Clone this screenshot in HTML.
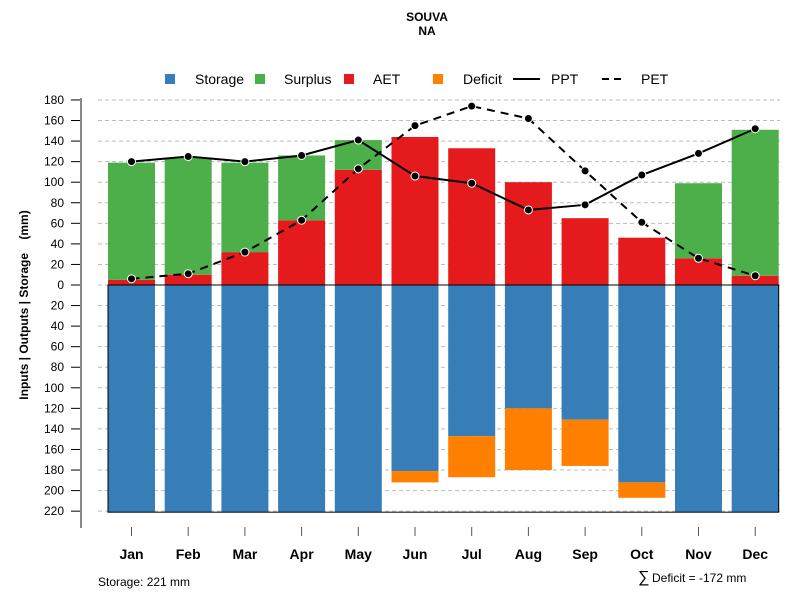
<!DOCTYPE html>
<html><head><meta charset="utf-8"><style>
body{margin:0;background:#fff;font-family:"Liberation Sans",sans-serif}
svg text{font-family:"Liberation Sans",sans-serif}
</style></head><body>
<svg id="chart" width="800" height="600" viewBox="0 0 800 600" xmlns="http://www.w3.org/2000/svg">
<text x="427" y="21" text-anchor="middle" font-size="12" font-weight="bold">SOUVA</text>
<text x="427" y="35" text-anchor="middle" font-size="12" font-weight="bold">NA</text>
<g id="grid"></g>
<g id="bars"></g>
<g id="lines"></g>
<g id="axes"></g>
<g font-size="14">
 <rect x="165" y="74" width="10" height="10" fill="#377eb8"/>
 <text x="195" y="84">Storage</text>
 <rect x="255" y="74" width="10" height="10" fill="#4daf4a"/>
 <text x="284" y="84">Surplus</text>
 <rect x="344" y="74" width="10" height="10" fill="#e41a1c"/>
 <text x="373" y="84">AET</text>
 <rect x="433" y="74" width="10" height="10" fill="#ff7f00"/>
 <text x="463" y="84">Deficit</text>
 <line x1="513" y1="79" x2="540" y2="79" stroke="#000" stroke-width="2"/>
 <text x="551" y="84">PPT</text>
 <line x1="602" y1="79" x2="625" y2="79" stroke="#000" stroke-width="2" stroke-dasharray="7,5"/>
 <text x="641" y="84">PET</text>
</g>
<text transform="translate(28,305) rotate(-90)" text-anchor="middle" font-size="12" font-weight="bold" style="white-space:pre" xml:space="preserve">Inputs | Outputs | Storage    (mm)</text>
<text x="98" y="586" font-size="12">Storage: 221 mm</text>
<text x="638" y="582" font-size="16">∑</text>
<text x="652" y="582" font-size="12">Deficit = -172 mm</text>
</svg>
<script>
const months=["Jan","Feb","Mar","Apr","May","Jun","Jul","Aug","Sep","Oct","Nov","Dec"];
const aet=[5,10,32,63,112,144,133,100,65,46,26,9];
const surplus=[114,114,87,63,29,0,0,0,0,0,73,142];
const storage=[221,221,221,221,221,181,147,120,131,192,221,221];
const deficit=[0,0,0,0,0,11,40,60,45,15,0,0];
const ppt=[120,125,120,126,141,106,99,73,78,107,128,152];
const pet=[6,11,32,63,113,155,174,162,111,61,26,9];
const posTicks=[0,20,40,60,80,100,120,140,160,180];
const negTicks=[20,40,60,80,100,120,140,160,180,200,220];
const NS="http://www.w3.org/2000/svg";
const y0=285,k=1.028;
function yPos(v){return y0-v*k;}
function yNeg(v){return y0+v*k;}
function xc(i){return 131.5+i*56.7;}
const bw=47;
function mk(tag,attrs,parent){const e=document.createElementNS(NS,tag);for(const a in attrs)e.setAttribute(a,attrs[a]);parent.appendChild(e);return e;}
const grid=document.getElementById('grid'),bars=document.getElementById('bars'),lines=document.getElementById('lines'),axes=document.getElementById('axes');
const allT=posTicks.map(v=>[v,yPos(v)]).concat(negTicks.map(v=>[v,yNeg(v)]));
allT.forEach(([v,y])=>{
 const g=mk('line',{x1:98,x2:780,y1:y,y2:y,stroke:'#bbb','stroke-dasharray':'4,3'},grid);
 
 
 const t=mk('line',{x1:71,x2:81,y1:y,y2:y,stroke:'#000'},axes);
 
 
 const l=mk('text',{x:64,y:y+4,'text-anchor':'end','font-size':12},axes);
 l.textContent=v;
 
 
});
const ax=mk('line',{x1:81,x2:81,y1:98,y2:528,stroke:'#888','stroke-width':2},axes);


months.forEach((m,i)=>{
 const x=xc(i)-bw/2;
 const s=mk('rect',{x:x,y:y0,width:bw,height:storage[i]*k,fill:'#377eb8'},bars);
 
 
 if(deficit[i]>0){const d=mk('rect',{x:x,y:yNeg(storage[i]),width:bw,height:deficit[i]*k,fill:'#ff7f00'},bars);
 
 }
 const a=mk('rect',{x:x,y:yPos(aet[i]),width:bw,height:aet[i]*k,fill:'#e41a1c'},bars);
 
 
 if(surplus[i]>0){const su=mk('rect',{x:x,y:yPos(aet[i]+surplus[i]),width:bw,height:surplus[i]*k,fill:'#4daf4a'},bars);
 
 }
 const t=mk('line',{x1:xc(i),x2:xc(i),y1:527,y2:536,stroke:'#555'},axes);
 
 
 const l=mk('text',{x:xc(i),y:559,'text-anchor':'middle','font-size':14,'font-weight':'bold'},axes);
 l.textContent=m;
 
 
});
const box=mk('rect',{x:xc(0)-bw/2,y:y0,width:xc(11)+bw/2-(xc(0)-bw/2),height:221*k,fill:'none',stroke:'#000'},bars);


function series(vals,name,dash){
 const p=mk('polyline',{points:vals.map((v,i)=>xc(i)+','+yPos(v)).join(' '),fill:'none',stroke:'#000','stroke-width':2,'stroke-dasharray':dash},lines);
 
 
 vals.forEach((v,i)=>{const c=mk('circle',{cx:xc(i),cy:yPos(v),r:4,fill:'#000',stroke:'#fff','stroke-width':1},lines);
 
 });
}
series(ppt,'ppt','none');
series(pet,'pet','8,6');
</script>
</body></html>
